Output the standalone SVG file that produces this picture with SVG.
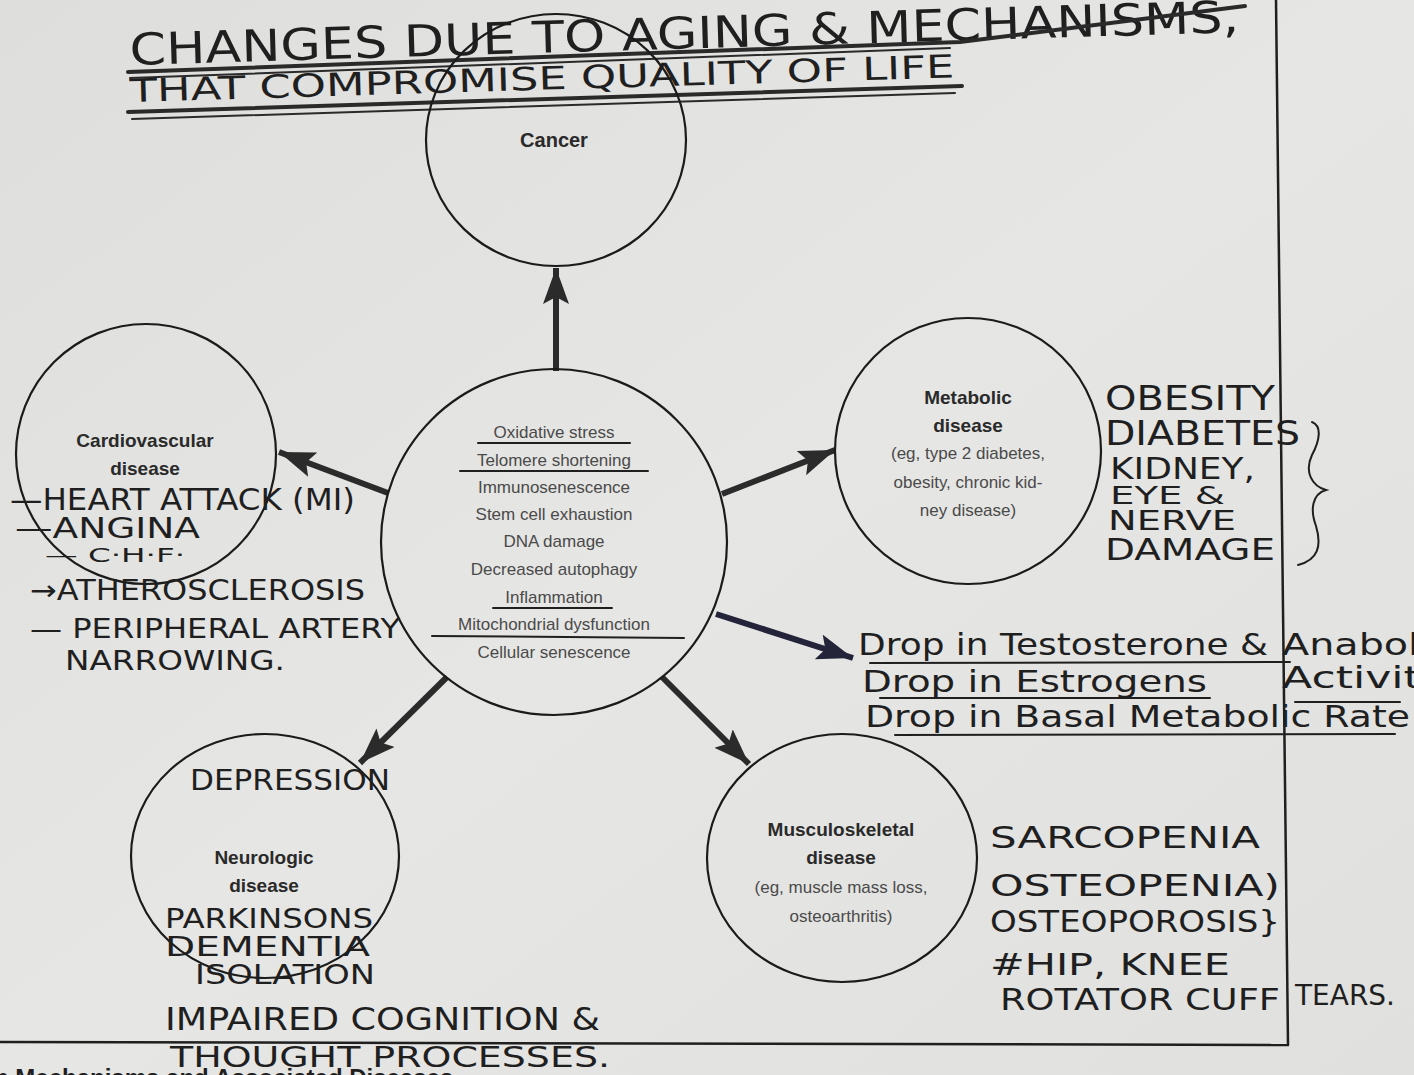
<svg xmlns="http://www.w3.org/2000/svg" width="1414" height="1075" viewBox="0 0 1414 1075">
  <defs>
    <linearGradient id="paper" x1="0" y1="0" x2="1" y2="1">
      <stop offset="0" stop-color="#dededc"/>
      <stop offset="0.5" stop-color="#e6e6e4"/>
      <stop offset="1" stop-color="#e0e0de"/>
    </linearGradient>
    <marker id="head" markerUnits="userSpaceOnUse" markerWidth="40" markerHeight="30" refX="36" refY="13" orient="auto">
      <path d="M0,0 L36,13 L0,26 L7,13 z" fill="#2b2b2b"/>
    </marker>
    <marker id="headBlue" markerUnits="userSpaceOnUse" markerWidth="40" markerHeight="30" refX="36" refY="13" orient="auto">
      <path d="M0,0 L36,13 L0,26 L7,13 z" fill="#23233a"/>
    </marker>
    <style>
      .ring { fill: none; stroke: #1b1b1b; stroke-width: 2.2; }
      .title { font-family: "Liberation Sans", Arial, sans-serif; font-weight: bold; fill: #2a2a2a; text-anchor: middle; }
      .body { font-family: "Liberation Sans", Arial, sans-serif; fill: #4a4a4a; text-anchor: middle; font-size: 17px; }
      .hand { font-family: "DejaVu Sans", sans-serif; fill: #1f1f1f; }
      .pen { fill: none; stroke: #1f1f1f; stroke-width: 2; stroke-linecap: round; }
      .rule { fill: none; stroke: #2a2a2a; stroke-linecap: round; }
      .shaft { fill: none; stroke: #2b2b2b; stroke-width: 6; }
    </style>
  </defs>

  <rect width="1414" height="1075" fill="url(#paper)"/>

  <!-- page frame lines -->
  <g id="frame">
    <line x1="1276" y1="0" x2="1288" y2="1045" stroke="#1f1f1f" stroke-width="2.5"/>
    <line x1="0" y1="1042" x2="1289" y2="1045" stroke="#1f1f1f" stroke-width="2.5"/>
    <text x="-6" y="1086" font-family="Liberation Sans, Arial, sans-serif" font-weight="bold" font-size="24" fill="#1f1f1f">n Mechanisms and Associated Diseases</text>
  </g>

  <!-- heading -->
  <g id="heading">
    <text class="hand" x="130" y="65" font-size="44" textLength="1110" lengthAdjust="spacingAndGlyphs" transform="rotate(-1.7 130 65)">CHANGES DUE TO AGING &amp; MECHANISMS,</text>
    <path class="rule" stroke-width="4" d="M128,72 L960,42 L1245,6"/>
    <path class="rule" stroke-width="2" d="M130,78 L950,48"/>
    <text class="hand" x="130" y="102" font-size="32" textLength="825" lengthAdjust="spacingAndGlyphs" transform="rotate(-1.7 130 102)">THAT COMPROMISE QUALITY OF LIFE</text>
    <path class="rule" stroke-width="4" d="M128,112 L962,86"/>
    <path class="rule" stroke-width="2" d="M132,119 L955,93"/>
  </g>

  <!-- connectors -->
  <g id="connectors">
    <line class="shaft" x1="556" y1="371" x2="556" y2="268" marker-end="url(#head)"/>
    <line class="shaft" x1="388" y1="493" x2="279" y2="452" marker-end="url(#head)"/>
    <line class="shaft" x1="722" y1="494" x2="835" y2="450" marker-end="url(#head)"/>
    <line x1="716" y1="614" x2="853" y2="658" stroke="#23233a" stroke-width="6" marker-end="url(#headBlue)"/>
    <line class="shaft" x1="447" y1="677" x2="360" y2="763" marker-end="url(#head)"/>
    <line class="shaft" x1="662" y1="677" x2="749" y2="764" marker-end="url(#head)"/>
  </g>

  <!-- centre: mechanisms of aging -->
  <g id="node-mechanisms">
    <circle class="ring" cx="554" cy="542" r="173"/>
    <text class="body" x="554" y="438">Oxidative stress</text>
    <text class="body" x="554" y="466">Telomere shortening</text>
    <text class="body" x="554" y="493">Immunosenescence</text>
    <text class="body" x="554" y="520">Stem cell exhaustion</text>
    <text class="body" x="554" y="547">DNA damage</text>
    <text class="body" x="554" y="575">Decreased autophagy</text>
    <text class="body" x="554" y="603">Inflammation</text>
    <text class="body" x="554" y="630">Mitochondrial dysfunction</text>
    <text class="body" x="554" y="658">Cellular senescence</text>
    <line class="pen" x1="478" y1="443" x2="630" y2="443" stroke-width="1.8"/>
    <line class="pen" x1="460" y1="471" x2="648" y2="471" stroke-width="1.8"/>
    <line class="pen" x1="493" y1="608" x2="612" y2="608" stroke-width="1.8"/>
    <line class="pen" x1="432" y1="636" x2="684" y2="638" stroke-width="1.8"/>
  </g>

  <g id="node-cancer">
    <ellipse class="ring" cx="556" cy="140" rx="130" ry="126"/>
    <text class="title" x="554" y="147" font-size="20">Cancer</text>
  </g>

  <g id="node-cardiovascular">
    <circle class="ring" cx="146" cy="454" r="130"/>
    <text class="title" x="145" y="447" font-size="19">Cardiovascular</text>
    <text class="title" x="145" y="475" font-size="19">disease</text>
    <text class="hand" x="10" y="510" font-size="30" textLength="345" lengthAdjust="spacingAndGlyphs">—HEART ATTACK (MI)</text>
    <text class="hand" x="15" y="538" font-size="28" textLength="185" lengthAdjust="spacingAndGlyphs">—ANGINA</text>
    <text class="hand" x="45" y="562" font-size="19" textLength="140" lengthAdjust="spacingAndGlyphs">— C·H·F·</text>
    <text class="hand" x="30" y="600" font-size="28" textLength="335" lengthAdjust="spacingAndGlyphs">→ATHEROSCLEROSIS</text>
    <text class="hand" x="30" y="638" font-size="26" textLength="370" lengthAdjust="spacingAndGlyphs">— PERIPHERAL ARTERY</text>
    <text class="hand" x="65" y="670" font-size="26" textLength="220" lengthAdjust="spacingAndGlyphs">NARROWING.</text>
  </g>

  <g id="node-metabolic">
    <circle class="ring" cx="968" cy="451" r="133"/>
    <text class="title" x="968" y="404" font-size="19">Metabolic</text>
    <text class="title" x="968" y="432" font-size="19">disease</text>
    <text class="body" x="968" y="459" font-size="16">(eg, type 2 diabetes,</text>
    <text class="body" x="968" y="488" font-size="16">obesity, chronic kid-</text>
    <text class="body" x="968" y="516" font-size="16">ney disease)</text>
    <text class="hand" x="1105" y="410" font-size="34" textLength="170" lengthAdjust="spacingAndGlyphs">OBESITY</text>
    <text class="hand" x="1105" y="445" font-size="33" textLength="195" lengthAdjust="spacingAndGlyphs">DIABETES</text>
    <text class="hand" x="1110" y="479" font-size="31" textLength="145" lengthAdjust="spacingAndGlyphs">KIDNEY,</text>
    <text class="hand" x="1110" y="504" font-size="25" textLength="115" lengthAdjust="spacingAndGlyphs">EYE &amp;</text>
    <text class="hand" x="1108" y="530" font-size="26" textLength="128" lengthAdjust="spacingAndGlyphs">NERVE</text>
    <text class="hand" x="1105" y="560" font-size="31" textLength="170" lengthAdjust="spacingAndGlyphs">DAMAGE</text>
    <path class="pen" d="M1312,422 C1322,426 1320,440 1312,455 C1304,472 1312,486 1326,490 C1312,494 1310,510 1316,526 C1322,546 1318,560 1298,565"/>
  </g>

  <g id="node-hormones">
    <text class="hand" x="858" y="655" font-size="30" textLength="410" lengthAdjust="spacingAndGlyphs">Drop in Testosterone &amp;</text>
    <text class="hand" x="1282" y="655" font-size="30" textLength="170" lengthAdjust="spacingAndGlyphs">Anabolic</text>
    <text class="hand" x="862" y="692" font-size="30" textLength="345" lengthAdjust="spacingAndGlyphs">Drop in Estrogens</text>
    <text class="hand" x="1282" y="688" font-size="30" textLength="165" lengthAdjust="spacingAndGlyphs">Activity</text>
    <text class="hand" x="865" y="727" font-size="30" textLength="545" lengthAdjust="spacingAndGlyphs">Drop in Basal Metabolic Rate</text>
    <line class="pen" x1="870" y1="663" x2="1290" y2="662"/>
    <line class="pen" x1="880" y1="698" x2="1210" y2="698"/>
    <line class="pen" x1="1295" y1="702" x2="1400" y2="702"/>
    <line class="pen" x1="895" y1="735" x2="1395" y2="734"/>
  </g>

  <g id="node-neurologic">
    <ellipse class="ring" cx="265" cy="856" rx="134" ry="122"/>
    <text class="title" x="264" y="864" font-size="19">Neurologic</text>
    <text class="title" x="264" y="892" font-size="19">disease</text>
    <text class="hand" x="190" y="790" font-size="28" textLength="200" lengthAdjust="spacingAndGlyphs">DEPRESSION</text>
    <text class="hand" x="165" y="928" font-size="26" textLength="208" lengthAdjust="spacingAndGlyphs">PARKINSONS</text>
    <text class="hand" x="165" y="956" font-size="26" textLength="205" lengthAdjust="spacingAndGlyphs">DEMENTIA</text>
    <text class="hand" x="195" y="984" font-size="26" textLength="180" lengthAdjust="spacingAndGlyphs">ISOLATION</text>
    <text class="hand" x="165" y="1030" font-size="32" textLength="435" lengthAdjust="spacingAndGlyphs">IMPAIRED COGNITION &amp;</text>
    <text class="hand" x="170" y="1067" font-size="29" textLength="440" lengthAdjust="spacingAndGlyphs">THOUGHT PROCESSES.</text>
  </g>

  <g id="node-musculoskeletal">
    <ellipse class="ring" cx="842" cy="858" rx="135" ry="124"/>
    <text class="title" x="841" y="836" font-size="19">Musculoskeletal</text>
    <text class="title" x="841" y="864" font-size="19">disease</text>
    <text class="body" x="841" y="893" font-size="16">(eg, muscle mass loss,</text>
    <text class="body" x="841" y="922" font-size="16">osteoarthritis)</text>
    <text class="hand" x="990" y="848" font-size="30" textLength="270" lengthAdjust="spacingAndGlyphs">SARCOPENIA</text>
    <text class="hand" x="990" y="896" font-size="30" textLength="290" lengthAdjust="spacingAndGlyphs">OSTEOPENIA)</text>
    <text class="hand" x="990" y="932" font-size="30" textLength="290" lengthAdjust="spacingAndGlyphs">OSTEOPOROSIS}</text>
    <text class="hand" x="990" y="975" font-size="30" textLength="240" lengthAdjust="spacingAndGlyphs">#HIP, KNEE</text>
    <text class="hand" x="1000" y="1010" font-size="30" textLength="280" lengthAdjust="spacingAndGlyphs">ROTATOR CUFF</text>
    <text class="hand" x="1295" y="1005" font-size="28" textLength="100" lengthAdjust="spacingAndGlyphs">TEARS.</text>
  </g>
</svg>
